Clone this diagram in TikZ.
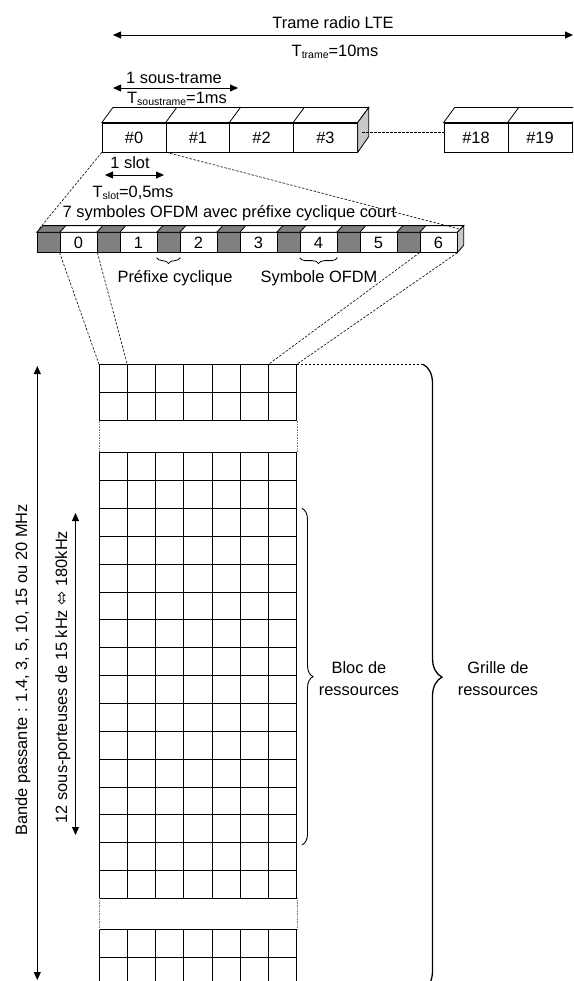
\documentclass[tikz,border=0pt]{standalone}
\usepackage{fontspec}
\setmainfont{Liberation Sans}
\newfontfamily\symfont{DejaVu Sans}
\usetikzlibrary{arrows.meta,decorations.pathreplacing,calc}
\definecolor{prefgrey}{HTML}{808080}
\definecolor{sidegrey}{HTML}{C8C8C8}
\newcommand\Tsub[1]{T\raisebox{-2.5pt}{\fontsize{10.5}{10}\selectfont #1}}
\begin{document}
\begin{tikzpicture}[x=1pt,y=-1pt,
  txt/.style={font=\fontsize{16.4}{19}\selectfont, inner sep=0pt},
  ln/.style={line width=0.8pt},
  dline/.style={line width=0.6pt, dash pattern=on 2.5pt off 1.5pt},
  gapline/.style={line width=0.5pt, gray, dash pattern=on 0.8pt off 0.8pt},
  darr/.style={line width=0.8pt, {Triangle[length=8pt,width=7pt]}-{Triangle[length=8pt,width=7pt]}},
  sfbox/.style={draw, fill=white, line width=0.8pt, minimum width=63.75pt, minimum height=29pt, inner sep=0pt, font=\fontsize{16.4}{19}\selectfont},
  cpbox/.style={draw, fill=prefgrey, line width=0.8pt, minimum width=23pt, minimum height=19.5pt, inner sep=0pt},
  symbox/.style={draw, fill=white, line width=0.8pt, minimum width=37pt, minimum height=19.5pt, inner sep=0pt, font=\fontsize{16.4}{19}\selectfont},
  bracebig/.style={decorate, decoration={brace, amplitude=19pt}, line width=1.3pt},
  bracemid/.style={decorate, decoration={brace, amplitude=11pt}, line width=0.9pt},
  bracesmall/.style={decorate, decoration={brace, amplitude=6pt}, line width=0.8pt},
  ]
\useasboundingbox (0,0) rectangle (573,981);
\clip (0,0) rectangle (573,981);

% ---------- frame arrow ----------
\coordinate (fL) at (113,35);
\coordinate (fR) at (573,35);
\draw[darr] (fL) -- (fR);
\node[txt] (trame) at (333,23) {Trame radio LTE};
\node[txt] (ttrame) at (335,52) {\Tsub{trame}=10ms};

% ---------- subframe arrow ----------
\coordinate (sfL) at (113,88);
\coordinate (sfR) at (238,88);
\draw[darr] (sfL) -- (sfR);
\node[txt] (sous) at (174,78) {1 sous-trame};
\node[txt] (tsous) at (177,99) {\Tsub{soustrame}=1ms};

% ---------- subframe boxes ----------
\foreach \i/\x in {0/134.1,1/197.9,2/261.6,3/325.4}{
  \node[sfbox] (s\i) at (\x,137.5) {\#\i};
  \draw[ln, fill=white] (s\i.north west) -- ++(11,-15) -- ([shift={(11,-15)}]s\i.north east) -- (s\i.north east) -- cycle;
}
\draw[ln, fill=sidegrey] (s3.north east) -- ++(11,-15) -- ++(0,29) -- (s3.south east) -- cycle;
\foreach \i/\x in {18/476,19/540}{
  \node[sfbox, minimum width=64pt] (s\i) at (\x,137.5) {\#\i};
  \draw[ln, fill=white] (s\i.north west) -- ++(11,-15) -- ([shift={(11,-15)}]s\i.north east) -- (s\i.north east) -- cycle;
}
\coordinate (dl1) at (362,132);
\draw[dline] (dl1) -- (dl1 -| s18.west);

% ---------- slot ----------
\node[txt] (slot) at (130,163) {1 slot};
\coordinate (slL) at (105,175);
\coordinate (slR) at (164,175);
\draw[darr] (slL) -- (slR);
\node[txt] (tslot) at (133,193) {\Tsub{slot}=0,5ms};
\node[txt] (sept) at (229.5,213) {7 symboles OFDM avec préfixe cyclique court};

% ---------- slot bar ----------
\foreach \i in {0,...,6}{
  \node[cpbox] (p\i) at ({48.5+60*\i},242.5) {};
  \node[symbox] (c\i) at ({78.5+60*\i},242.5) {\i};
  \draw[ln, fill=prefgrey] (p\i.north west) -- ++(6.3,-6.7) -- ([shift={(6.3,-6.7)}]p\i.north east) -- (p\i.north east) -- cycle;
  \draw[ln, fill=white] (c\i.north west) -- ++(6.3,-6.7) -- ([shift={(6.3,-6.7)}]c\i.north east) -- (c\i.north east) -- cycle;
}
\draw[ln, fill=sidegrey] (c6.north east) -- ++(6.3,-6.7) -- ++(0,19.5) -- (c6.south east) -- cycle;

% dashed zoom lines subframe -> slot
\coordinate (slotTL) at (39,229);
\coordinate (slotTR) at (459,229);
\draw[dline] (s0.south west) -- (slotTL);
\draw[dline] (s0.south east) -- (slotTR);

% small braces
\draw[bracesmall] ([yshift=-5pt]p2.south east) -- ([yshift=-5pt]p2.south west);
\draw[bracesmall] ([yshift=-5pt]c4.south east) -- ([yshift=-5pt]c4.south west);
\node[txt] (pref) at (175,278) {Préfixe cyclique};
\node[txt] (symb) at (319,278) {Symbole OFDM};

% ---------- grid ----------
\def\cw{28.25}
\coordinate (gTL) at (99,364.3);
\coordinate (gC1) at (127.25,364.3);
\coordinate (gC6) at (268.5,364.3);
\coordinate (gTR) at (296.75,364.3);
% top block
\foreach \k in {0,1,2}{ \draw[ln] (99,{364.3+28.2*\k}) -- (296.75,{364.3+28.2*\k}); }
\foreach \j in {0,...,7}{ \draw[ln] ({99+\cw*\j},364.3) -- ({99+\cw*\j},420.7); }
% middle block
\foreach \k in {0,...,16}{ \draw[ln] (99,{452.7+27.85*\k}) -- (296.75,{452.7+27.85*\k}); }
\foreach \j in {0,...,7}{ \draw[ln] ({99+\cw*\j},452.7) -- ({99+\cw*\j},898.3); }
% bottom block
\foreach \k in {0,1,2}{ \draw[ln] (99,{929.3+28*\k}) -- (296.75,{929.3+28*\k}); }
\foreach \j in {0,...,7}{ \draw[ln] ({99+\cw*\j},929.3) -- ({99+\cw*\j},990); }
% gaps
\draw[gapline] (99,420.7) -- (99,452.7);
\draw[gapline] (296.75,420.7) -- (296.75,452.7);
\draw[gapline] (99,898.3) -- (99,929.3);
\draw[gapline] (296.75,898.3) -- (296.75,929.3);

% dashed zoom lines slot -> grid
\draw[dline] (c0.south west) -- (gTL);
\draw[dline] (c0.south east) -- (gC1);
\draw[dline] (c6.south west) -- (gC6);
\draw[dline] (c6.south east) -- (gTR);

% ---------- braces ----------
\coordinate (grT) at (423,364.3);
\coordinate (grB) at (423,990);
\draw[dline] (gTR) -- (grT);
\draw[bracebig] (grT) -- (grB);
\node[txt, align=center] (grille) at (498,679) {Grille de\\[3pt]ressources};
\coordinate (blT) at (302,508.3);
\coordinate (blB) at (302,845);
\draw[bracemid] (blT) -- (blB);
\node[txt, align=center] (bloc) at (359,679) {Bloc de\\[3pt]ressources};

% ---------- left arrows ----------
\coordinate (bwT) at (37.3,366);
\coordinate (bwB) at (37.3,980);
\draw[darr] (bwT) -- (bwB);
\node[txt, rotate=90] (bande) at (23,670) {Bande passante : 1.4, 3, 5, 10, 15 ou 20 MHz};
\coordinate (rbT) at (75.5,513);
\coordinate (rbB) at (75.5,835);
\draw[darr] (rbT) -- (rbB);
\node[txt, rotate=90] (sousp) at (63,677) {12 sous-porteuses de 15 kHz {\symfont\fontsize{17}{19}\selectfont ⬄} 180kHz};
\end{tikzpicture}
\end{document}
